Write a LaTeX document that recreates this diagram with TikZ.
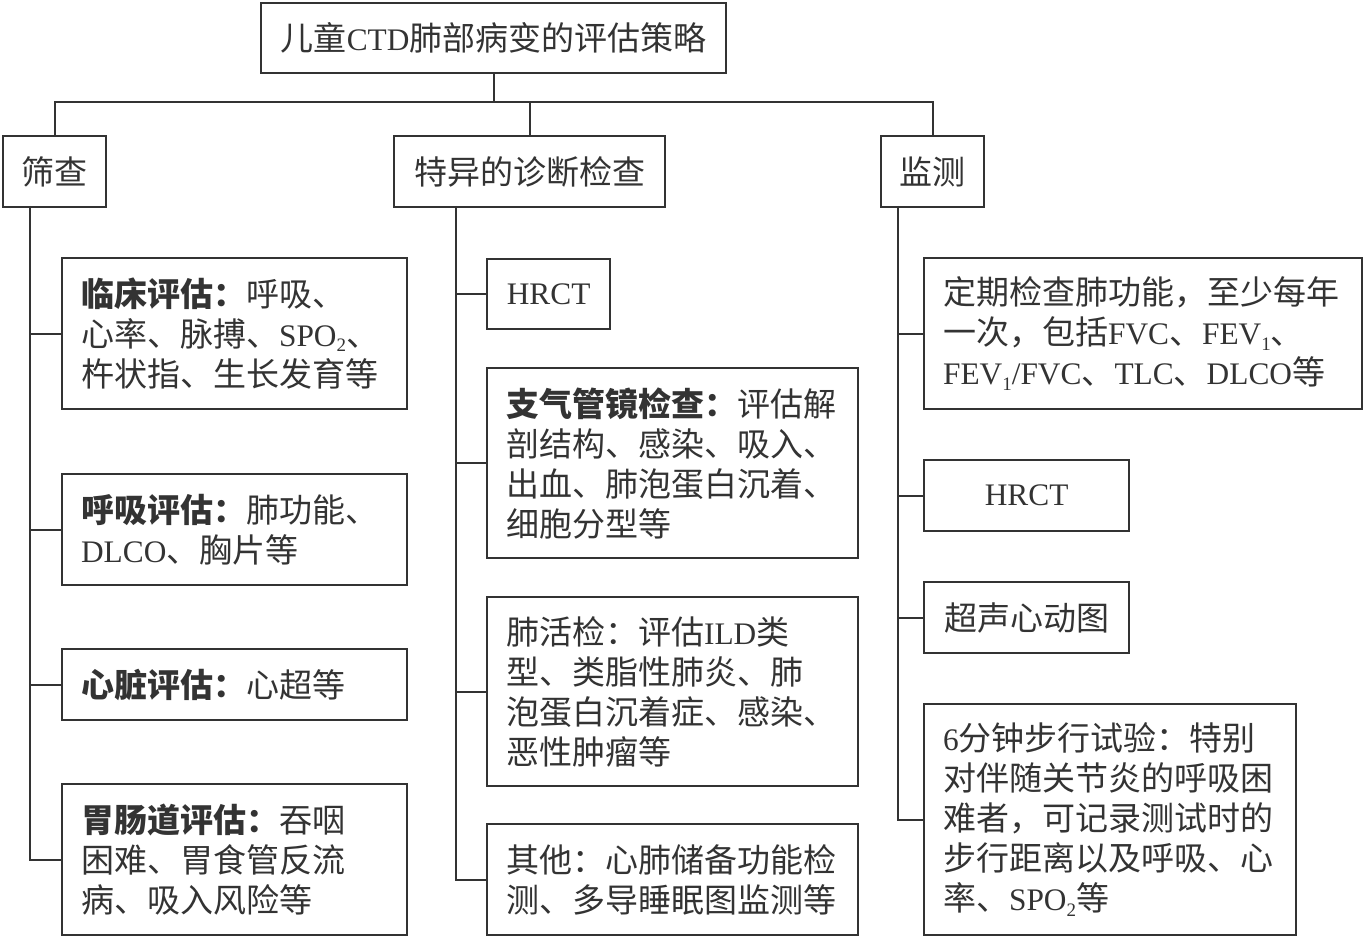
\documentclass[tikz,border=0pt]{standalone}
\usepackage{fontspec}
\setmainfont{Noto Sans CJK SC}
\newfontfamily\latfont[Scale=0.95]{Liberation Serif}
\newcommand\lat[1]{{\latfont #1}}
\newcommand\sub[1]{\raisebox{-0.3ex}{\fontsize{20}{20}\selectfont\latfont #1}}
\definecolor{ink}{HTML}{333333}
\newcommand\bodyfont{\fontsize{33}{40}\selectfont}
\tikzset{
  box/.style={draw=ink, line width=2.2pt, text=ink, font=\bodyfont, anchor=north west, inner ysep=0pt},
  cbox/.style 2 args={box, minimum width=#1, minimum height=#2, inner xsep=0pt, align=center},
  conn/.style={draw=ink, line width=2pt},
}
\begin{document}
\begin{tikzpicture}[x=1pt,y=-1pt]
\useasboundingbox (0,0) rectangle (1363,936);
% top
\node[cbox={465pt}{70pt}] (title) at (260,2) {儿童\lat{CTD}肺部病变的评估策略};
\node[cbox={103pt}{71pt}] (sc) at (2,135) {筛查};
\node[cbox={271pt}{71pt}] (jc) at (393,135) {特异的诊断检查};
\node[cbox={103pt}{71pt}] (jm) at (880,135) {监测};
% left column
\node[box, minimum width=345pt, minimum height=151pt, inner xsep=19pt, text width=307pt, align=left] (L1) at (61,257)
  {\textbf{临床评估：}呼吸、\\心率、脉搏、\lat{SPO}\sub{2}、\\杵状指、生长发育等};
\node[box, minimum width=345pt, minimum height=111pt, inner xsep=19pt, text width=307pt, align=left] (L2) at (61,473)
  {\textbf{呼吸评估：}肺功能、\\\lat{DLCO}、胸片等};
\node[box, minimum width=345pt, minimum height=71pt, inner xsep=19pt, text width=307pt, align=left] (L3) at (61,648)
  {\textbf{心脏评估：}心超等};
\node[box, minimum width=345pt, minimum height=151pt, inner xsep=19pt, text width=307pt, align=left] (L4) at (61,783)
  {\textbf{胃肠道评估：}吞咽\\困难、胃食管反流\\病、吸入风险等};
% middle column
\node[cbox={123pt}{70pt}] (M1) at (486,258) {\lat{HRCT}};
\node[box, minimum width=371pt, minimum height=190pt, inner xsep=19pt, text width=333pt, align=left] (M2) at (486,367)
  {\textbf{支气管镜检查：}评估解\\剖结构、感染、吸入、\\出血、肺泡蛋白沉着、\\细胞分型等};
\node[box, minimum width=371pt, minimum height=189pt, inner xsep=19pt, text width=333pt, align=left] (M3) at (486,596)
  {肺活检：评估\lat{ILD}类\\型、类脂性肺炎、肺\\泡蛋白沉着症、感染、\\恶性肿瘤等};
\node[box, minimum width=371pt, minimum height=111pt, inner xsep=19pt, text width=333pt, align=left] (M4) at (486,823)
  {其他：心肺储备功能检\\测、多导睡眠图监测等};
% right column
\node[box, minimum width=438pt, minimum height=151pt, inner xsep=19pt, text width=400pt, align=left] (R1) at (923,257)
  {定期检查肺功能，至少每年\\一次，包括\lat{FVC}、\lat{FEV}\sub{1}、\\\lat{FEV}\sub{1}\lat{/FVC}、\lat{TLC}、\lat{DLCO}等};
\node[cbox={205pt}{71pt}] (R2) at (923,459) {\lat{HRCT}};
\node[cbox={205pt}{71pt}] (R3) at (923,581) {超声心动图};
\node[box, minimum width=372pt, minimum height=231pt, inner xsep=19pt, text width=334pt, align=left] (R4) at (923,703)
  {\lat{6}分钟步行试验：特别\\对伴随关节炎的呼吸困\\难者，可记录测试时的\\步行距离以及呼吸、心\\率、\lat{SPO}\sub{2}等};
% connectors
\coordinate (bus) at (492,102);
\coordinate (ls) at (30,206);
\coordinate (ms) at (456,206);
\coordinate (rs) at (898,206);
\draw[conn] (title.south) -- (title.south |- bus);
\draw[conn] (sc.north) -- (sc.north |- bus) -- (jm.north |- bus) -- (jm.north);
\draw[conn] (jc.north |- bus) -- (jc.north);
\draw[conn] (ls) -- (ls |- L4.west) -- (L4.west);
\draw[conn] (ls |- L1.west) -- (L1.west);
\draw[conn] (ls |- L2.west) -- (L2.west);
\draw[conn] (ls |- L3.west) -- (L3.west);
\draw[conn] (ms) -- (ms |- M4.west) -- (M4.west);
\draw[conn] (ms |- M1.west) -- (M1.west);
\draw[conn] (ms |- M2.west) -- (M2.west);
\draw[conn] (ms |- M3.west) -- (M3.west);
\draw[conn] (rs) -- (rs |- R4.west) -- (R4.west);
\draw[conn] (rs |- R1.west) -- (R1.west);
\draw[conn] (rs |- R2.west) -- (R2.west);
\draw[conn] (rs |- R3.west) -- (R3.west);
\end{tikzpicture}
\end{document}
